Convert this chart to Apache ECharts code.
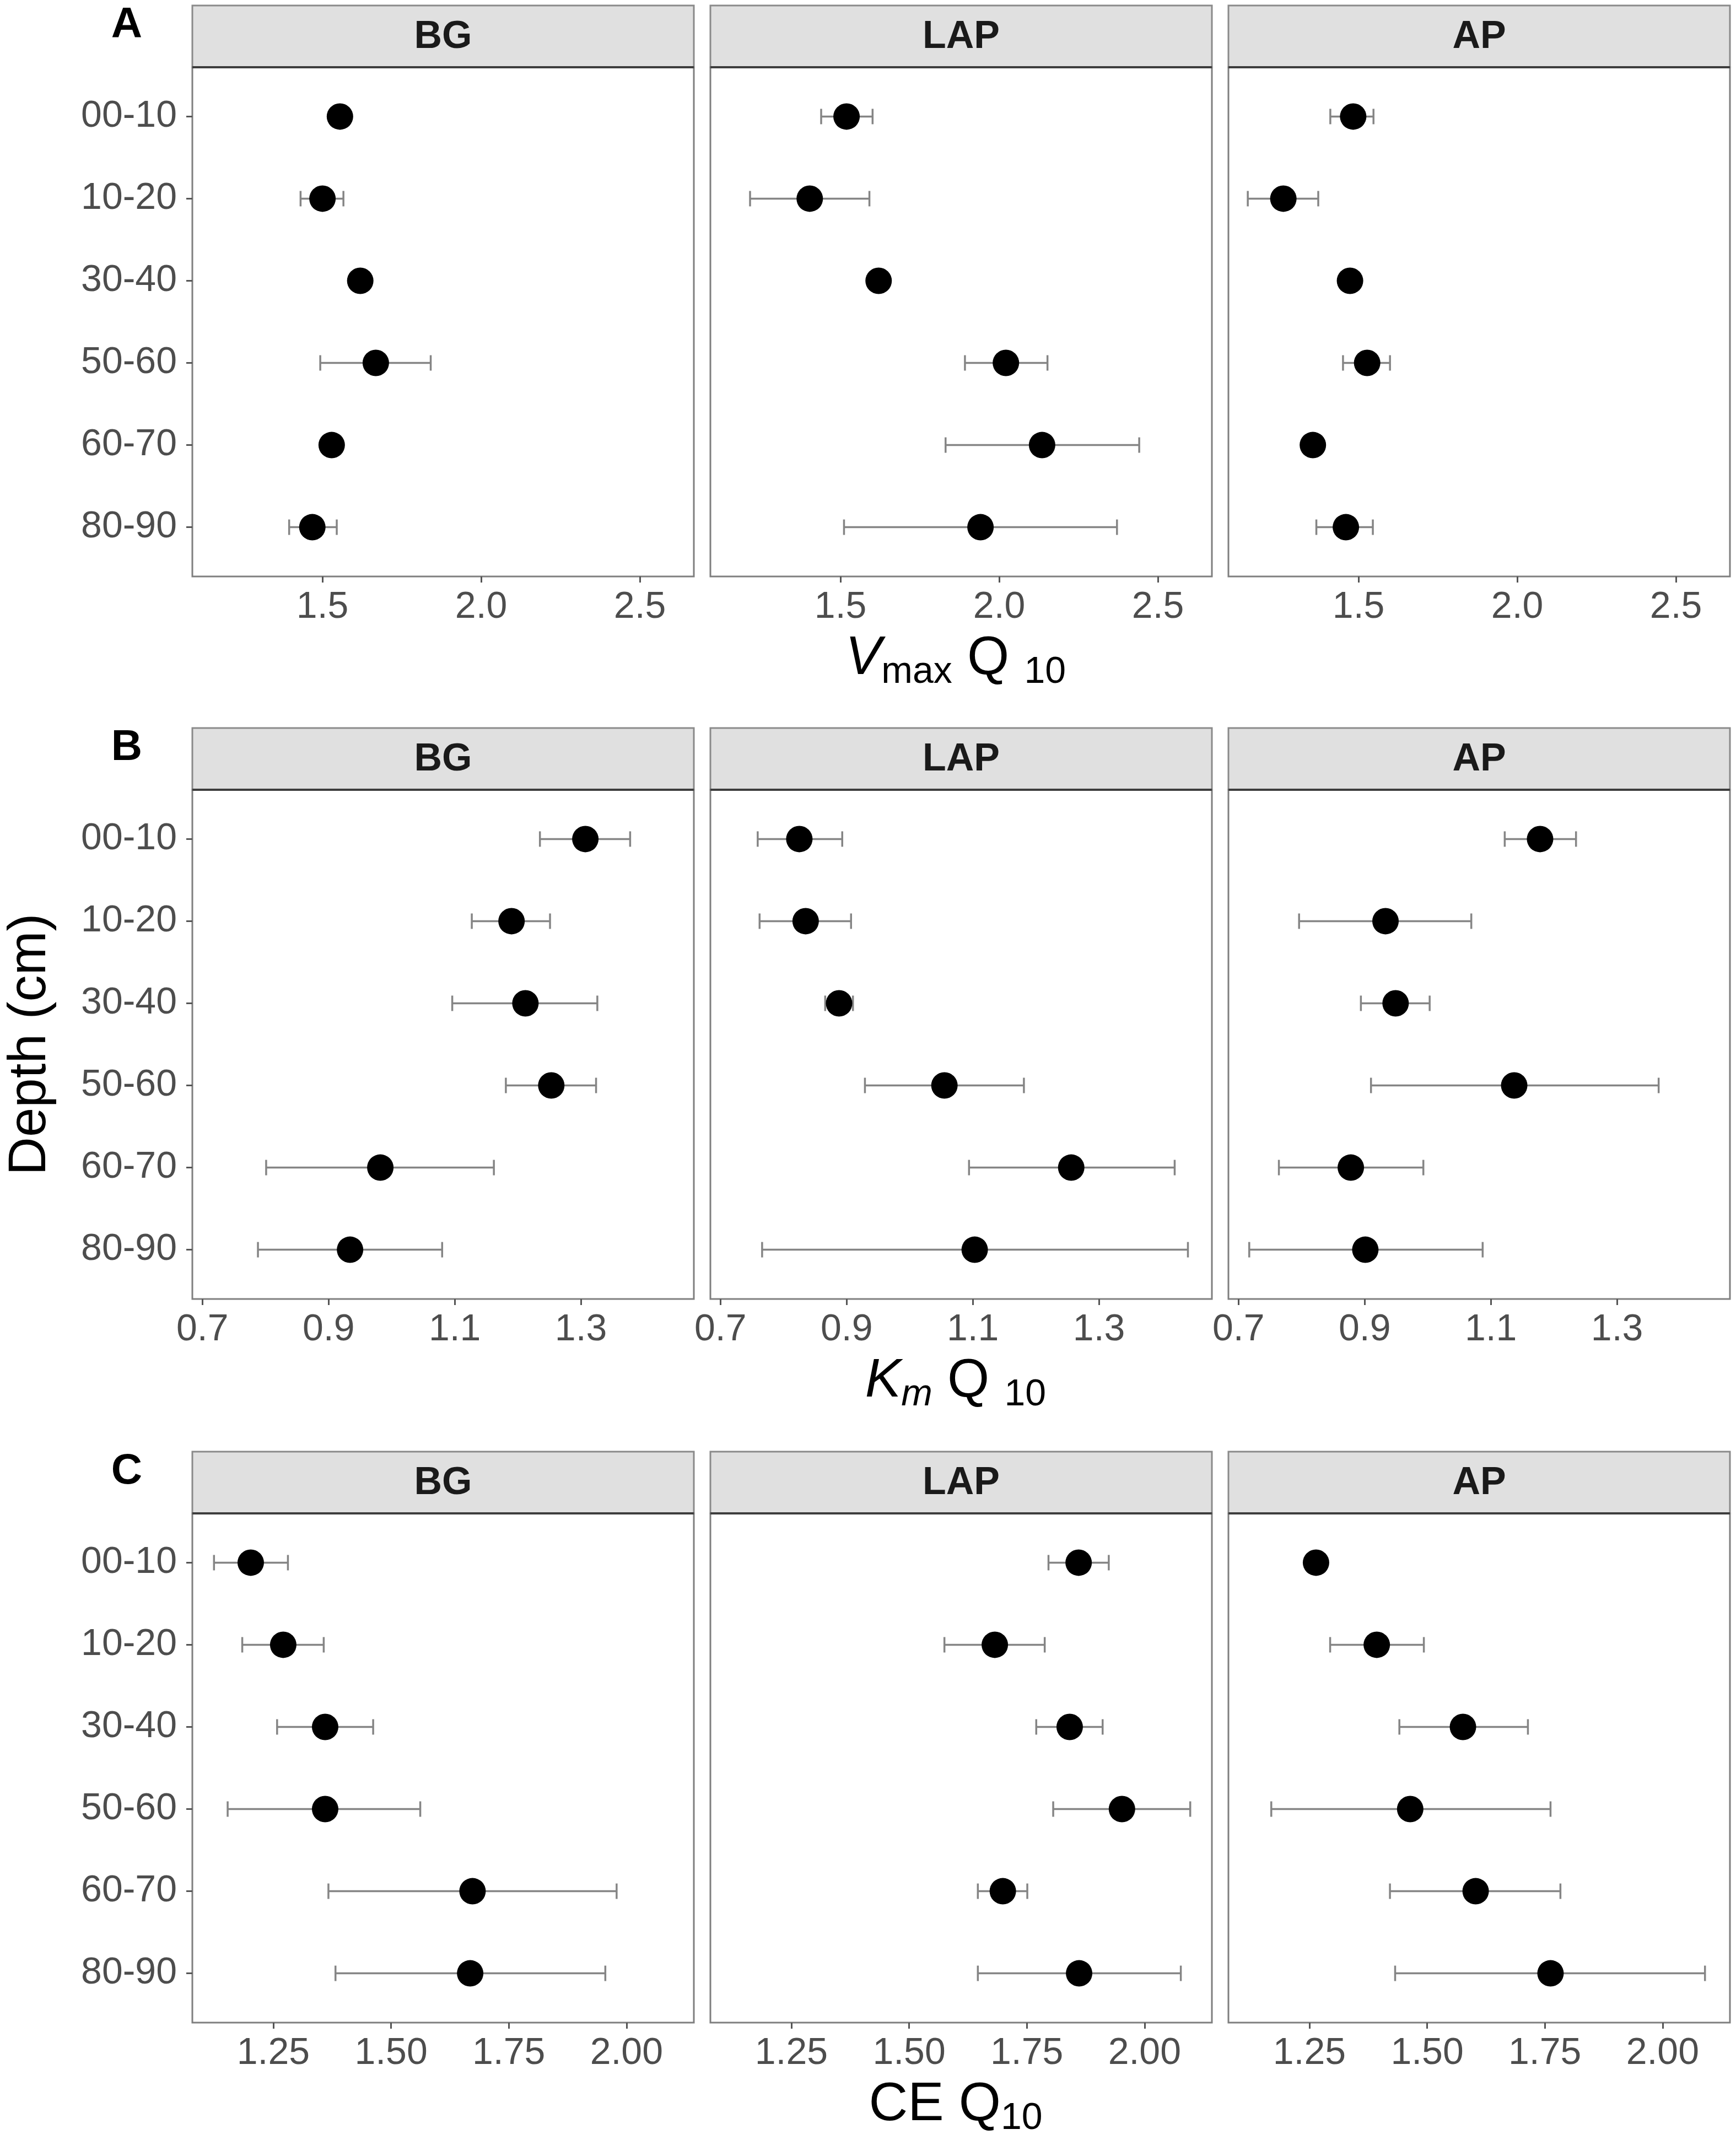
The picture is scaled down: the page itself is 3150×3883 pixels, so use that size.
<!DOCTYPE html>
<html>
<head>
<meta charset="utf-8">
<title>Q10 by depth</title>
<script src="https://cdn.jsdelivr.net/npm/echarts@6/dist/echarts.min.js"></script>
<style>
    html, body { margin: 0; padding: 0; background: #fff; }
    #main { width: 3150px; height: 3883px; }
</style>
</head>
<body>
<div id="main"></div>
<script>
// depth classes (y) and enzymes (facets)
var depths = ['00-10', '10-20', '30-40', '50-60', '60-70', '80-90']
var enzymes = ['BG', 'LAP', 'AP']
var rowLetters = ['A', 'B', 'C']

// A: Vmax Q10, mean and error bar ends
var vmaxBG = [1.555, 1.500, 1.619, 1.668, 1.529, 1.468]
var vmaxBGLow = [1.540, 1.431, 1.605, 1.493, 1.515, 1.395]
var vmaxBGHigh = [1.570, 1.566, 1.633, 1.841, 1.543, 1.545]
var vmaxLAP = [1.519, 1.403, 1.620, 2.021, 2.135, 1.941]
var vmaxLAPLow = [1.439, 1.215, 1.605, 1.892, 1.831, 1.511]
var vmaxLAPHigh = [1.601, 1.591, 1.635, 2.152, 2.441, 2.371]
var vmaxAP = [1.483, 1.263, 1.473, 1.527, 1.356, 1.460]
var vmaxAPLow = [1.411, 1.151, 1.458, 1.451, 1.342, 1.367]
var vmaxAPHigh = [1.547, 1.373, 1.488, 1.599, 1.370, 1.545]

// B: Km Q10
var kmBG = [1.307, 1.190, 1.212, 1.253, 0.982, 0.934]
var kmBGLow = [1.235, 1.127, 1.096, 1.181, 0.801, 0.788]
var kmBGHigh = [1.378, 1.251, 1.326, 1.324, 1.162, 1.080]
var kmLAP = [0.825, 0.835, 0.888, 1.055, 1.256, 1.103]
var kmLAPLow = [0.759, 0.762, 0.866, 0.929, 1.094, 0.766]
var kmLAPHigh = [0.893, 0.907, 0.910, 1.181, 1.420, 1.441]
var kmAP = [1.178, 0.933, 0.949, 1.137, 0.878, 0.901]
var kmAPLow = [1.122, 0.796, 0.894, 0.910, 0.764, 0.717]
var kmAPHigh = [1.235, 1.069, 1.003, 1.366, 0.993, 1.087]

// C: CE Q10
var ceBG = [1.202, 1.271, 1.360, 1.360, 1.673, 1.668]
var ceBGLow = [1.124, 1.184, 1.258, 1.153, 1.367, 1.382]
var ceBGHigh = [1.281, 1.357, 1.462, 1.562, 1.979, 1.955]
var ceLAP = [1.860, 1.682, 1.841, 1.952, 1.699, 1.861]
var ceLAPLow = [1.796, 1.575, 1.770, 1.806, 1.646, 1.646]
var ceLAPHigh = [1.924, 1.788, 1.911, 2.097, 1.751, 2.077]
var ceAP = [1.264, 1.393, 1.576, 1.464, 1.603, 1.762]
var ceAPLow = [1.250, 1.294, 1.441, 1.169, 1.421, 1.432]
var ceAPHigh = [1.278, 1.493, 1.714, 1.762, 1.783, 2.090]

// x tick labels per row
var vmaxTicks = [1.5, 2.0, 2.5]
var kmTicks = [0.7, 0.9, 1.1, 1.3]
var ceTicks = [1.25, 1.5, 1.75, 2.0]

var rows = [
    {ticks: vmaxTicks, digits: 1, min: 1.09, max: 2.67,
        mean: [vmaxBG, vmaxLAP, vmaxAP], low: [vmaxBGLow, vmaxLAPLow, vmaxAPLow], high: [vmaxBGHigh, vmaxLAPHigh, vmaxAPHigh],
        title: '{it|V}{sub|max}{n| Q }{sub|10}'},
    {ticks: kmTicks, digits: 1, min: 0.684, max: 1.479,
        mean: [kmBG, kmLAP, kmAP], low: [kmBGLow, kmLAPLow, kmAPLow], high: [kmBGHigh, kmLAPHigh, kmAPHigh],
        title: '{it|K}{itsub|m}{n| Q }{sub|10}'},
    {ticks: ceTicks, digits: 2, min: 1.078, max: 2.143,
        mean: [ceBG, ceLAP, ceAP], low: [ceBGLow, ceLAPLow, ceAPLow], high: [ceBGHigh, ceLAPHigh, ceAPHigh],
        title: '{n|CE Q}{sub|10}'}
]

// layout (px)
var colLeft = [349, 1289, 2229]
var panelW = 910
var rowTop = [122, 1433, 2746]
var panelH = 924
var stripH = 112
var font = 'Liberation Sans'

var grids = [], xAxes = [], yAxes = [], series = [], graphics = []

// error bar: horizontal line with end caps
function renderErrorBar(params, api) {
    var a = api.coord([api.value(0), api.value(2)])
    var b = api.coord([api.value(1), api.value(2)])
    var cap = 14
    var st = {stroke: '#858585', lineWidth: 3.5}
    return {
        type: 'group',
        children: [
            {type: 'line', shape: {x1: a[0], y1: a[1], x2: b[0], y2: b[1]}, style: st},
            {type: 'line', shape: {x1: a[0], y1: a[1] - cap, x2: a[0], y2: a[1] + cap}, style: st},
            {type: 'line', shape: {x1: b[0], y1: b[1] - cap, x2: b[0], y2: b[1] + cap}, style: st}
        ]
    }
}

rows.forEach(function (row, r) {
    enzymes.forEach(function (enz, c) {
        var k = r * 3 + c
        grids.push({
            left: colLeft[c], top: rowTop[r], width: panelW, height: panelH,
            show: true, borderColor: '#7f7f7f', borderWidth: 3, backgroundColor: '#fff'
        })
        xAxes.push({
            type: 'value', gridIndex: k, min: row.min, max: row.max, position: 'bottom',
            splitLine: {show: false},
            axisLine: {show: false, onZero: false},
            axisTick: {show: true, customValues: row.ticks, length: 11, lineStyle: {color: '#555', width: 3}},
            axisLabel: {
                customValues: row.ticks, margin: 22, color: '#4d4d4d', fontSize: 68, fontFamily: font,
                formatter: function (v) { return Number(v).toFixed(row.digits) }
            }
        })
        yAxes.push({
            type: 'value', gridIndex: k, min: -0.6, max: 5.6, inverse: true, position: 'left',
            splitLine: {show: false},
            axisLine: {show: false, onZero: false},
            axisTick: {show: c === 0, customValues: [0, 1, 2, 3, 4, 5], length: 11, lineStyle: {color: '#555', width: 3}},
            axisLabel: {
                show: c === 0, customValues: [0, 1, 2, 3, 4, 5], margin: 28,
                color: '#4d4d4d', fontSize: 68, fontFamily: font,
                formatter: function (v) { return depths[Math.round(v)] }
            }
        })
        series.push({
            type: 'custom', xAxisIndex: k, yAxisIndex: k, z: 2,
            renderItem: renderErrorBar,
            encode: {x: [0, 1], y: 2},
            data: depths.map(function (d, i) { return [row.low[c][i], row.high[c][i], i] }),
            silent: true
        })
        series.push({
            type: 'scatter', xAxisIndex: k, yAxisIndex: k, z: 3,
            symbol: 'circle', symbolSize: 48,
            itemStyle: {color: '#000', opacity: 1},
            data: depths.map(function (d, i) { return [row.mean[c][i], i] }),
            silent: true
        })
        // facet strip
        graphics.push({
            type: 'rect', z: 10,
            shape: {x: colLeft[c], y: rowTop[r] - stripH, width: panelW, height: stripH},
            style: {fill: '#e0e0e0', stroke: '#8a8a8a', lineWidth: 3}
        })
        graphics.push({
            type: 'line', z: 11,
            shape: {x1: colLeft[c], y1: rowTop[r], x2: colLeft[c] + panelW, y2: rowTop[r]},
            style: {stroke: '#3d3d3d', lineWidth: 4}
        })
        graphics.push({
            type: 'text', z: 12,
            x: colLeft[c] + panelW / 2, y: rowTop[r] - stripH / 2 + 2,
            style: {text: enz, fill: '#1a1a1a', font: 'bold 70px "' + font + '"', align: 'center', verticalAlign: 'middle'}
        })
    })
    // row letter
    graphics.push({
        type: 'text', z: 12,
        x: 230, y: rowTop[r] - stripH + 36,
        style: {text: rowLetters[r], fill: '#000', font: 'bold 78px "' + font + '"', align: 'center', verticalAlign: 'middle'}
    })
    // x axis title
    graphics.push({
        type: 'text', z: 12,
        x: colLeft[1] + panelW / 2 - 10, y: rowTop[r] + panelH + 150,
        style: {
            text: row.title, align: 'center', verticalAlign: 'middle', fill: '#000',
            rich: {
                n: {fontSize: 98, lineHeight: 116, fontFamily: font, color: '#000'},
                it: {fontSize: 98, lineHeight: 116, fontFamily: font, fontStyle: 'italic', color: '#000'},
                sub: {fontSize: 68, lineHeight: 68, fontFamily: font, verticalAlign: 'bottom', color: '#000'},
                itsub: {fontSize: 68, lineHeight: 68, fontFamily: font, fontStyle: 'italic', verticalAlign: 'bottom', color: '#000'}
            }
        }
    })
})

// shared y title
graphics.push({
    type: 'text', z: 12,
    x: 56, y: rowTop[1] + panelH / 2, rotation: Math.PI / 2,
    style: {text: 'Depth (cm)', fill: '#000', font: '96px "' + font + '"', align: 'center', verticalAlign: 'middle'}
})

var myChart = echarts.init(document.getElementById('main'))
var option = {
    backgroundColor: '#fff',
    animation: false,
    grid: grids,
    xAxis: xAxes,
    yAxis: yAxes,
    series: series,
    graphic: graphics
}
myChart.setOption(option)
window.addEventListener('resize', function () {
    myChart.resize()
})
</script>
</body>
</html>
